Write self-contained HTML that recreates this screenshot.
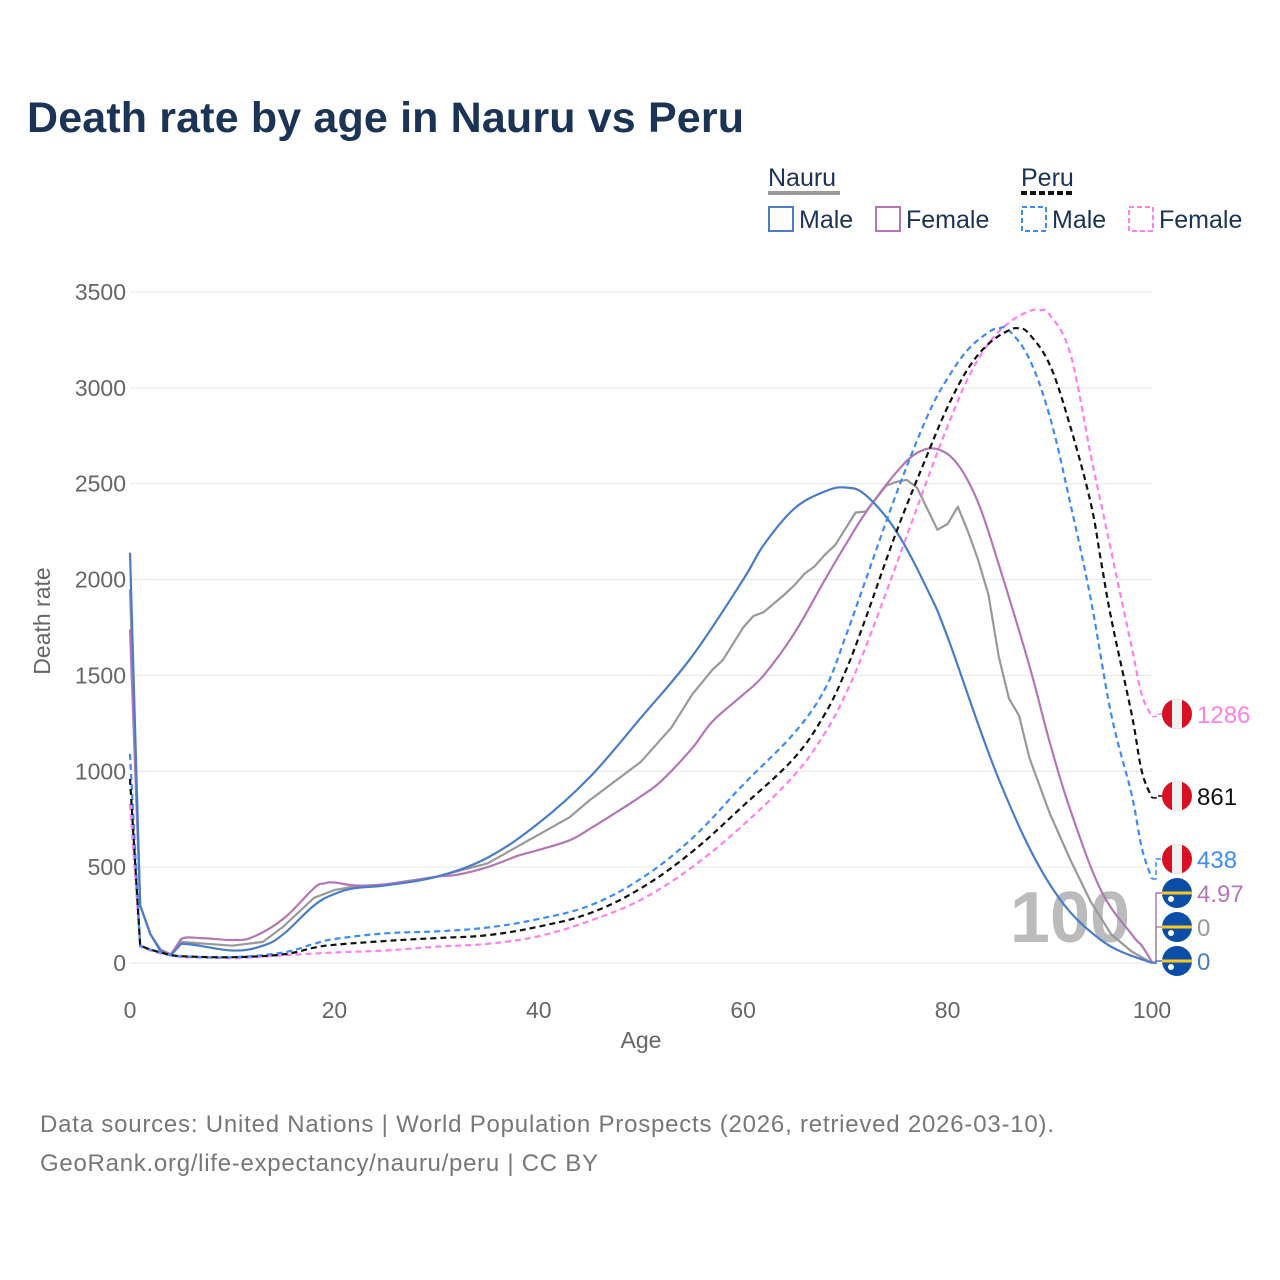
<!DOCTYPE html>
<html><head><meta charset="utf-8"><style>
body{margin:0;background:#fff;font-family:"Liberation Sans",sans-serif;}
#wrap{position:relative;width:1280px;height:1280px;overflow:hidden;}
</style></head><body>
<div id="wrap">
<svg id="chart" width="1280" height="1280" xmlns="http://www.w3.org/2000/svg">
<text x="27" y="132" font-size="43" font-weight="bold" fill="#1b3354" textLength="717">Death rate by age in Nauru vs Peru</text>
<g font-size="25" fill="#1b3354">
<text x="768" y="186">Nauru</text>
<line x1="768" y1="193" x2="840" y2="193" stroke="#999" stroke-width="4"/>
<text x="1021" y="186">Peru</text>
<line x1="1021" y1="193" x2="1075" y2="193" stroke="#111" stroke-width="4" stroke-dasharray="6,3"/>
<rect x="769" y="207" width="24" height="24" fill="none" stroke="#4a7cc9" stroke-width="2"/>
<text x="799" y="228">Male</text>
<rect x="876" y="207" width="24" height="24" fill="none" stroke="#b378b3" stroke-width="2"/>
<text x="906" y="228">Female</text>
<rect x="1022" y="207" width="24" height="24" fill="none" stroke="#3d8bf5" stroke-width="2" stroke-dasharray="5,3"/>
<text x="1052" y="228">Male</text>
<rect x="1129" y="207" width="24" height="24" fill="none" stroke="#ff80e8" stroke-width="2" stroke-dasharray="5,3"/>
<text x="1159" y="228">Female</text>
</g>
<g id="grid"></g>
<text x="1070" y="942" font-size="72" font-weight="bold" fill="#bbb" text-anchor="middle">100</text>
<g id="series"></g>
<g id="labels"></g>
<text x="641" y="1048" font-size="23" fill="#666" text-anchor="middle">Age</text>
<text x="0" y="0" font-size="23" fill="#666" text-anchor="middle" transform="translate(50,621) rotate(-90)">Death rate</text>
<text x="40" y="1132" font-size="24" fill="#777" textLength="1014">Data sources: United Nations | World Population Prospects (2026, retrieved 2026-03-10).</text>
<text x="40" y="1171" font-size="24" fill="#777" textLength="558">GeoRank.org/life-expectancy/nauru/peru | CC BY</text>
</svg>
</div>
<script>
const yTicks=[0,500,1000,1500,2000,2500,3000,3500];
const xTicks=[0,20,40,60,80,100];
const nauruMaleAges=[0,1,2,3,4,5,10,13,15,18,20,22,25,30,35,40,45,50,55,60,62,65,68,70,72,75,78,80,85,90,95,100];
const nauruMale=[2140,300,150,60,40,100,65,90,150,300,360,390,405,450,550,730,970,1280,1600,2000,2180,2370,2460,2480,2440,2250,1950,1700,960,410,120,0];
const nauruFemaleAges=[0,1,2,3,4,5,7,10,12,15,18,19,20,22,25,30,32,35,38,40,43,45,48,50,52,55,57,60,62,65,68,70,72,75,77,79,81,83,85,88,90,92,95,98,99,100];
const nauruFemale=[1740,300,150,70,45,125,130,120,135,230,390,415,420,405,410,450,460,500,560,590,640,700,800,870,950,1120,1260,1400,1500,1720,2000,2180,2350,2560,2660,2680,2600,2400,2080,1550,1150,800,380,150,90,5];
const nauruTotalAges=[0,1,2,3,4,5,10,13,15,18,20,22,25,30,35,40,43,45,47,50,51,53,55,57,58,60,61,62,64,65,66,67,68,69,71,72,74,75,76,77,78,79,80,81,82,83,84,85,86,87,88,90,92,94,96,98,100];
const nauruTotal=[1950,300,150,65,42,110,90,110,190,340,380,400,410,450,520,670,760,850,930,1050,1110,1230,1400,1530,1580,1750,1810,1830,1920,1970,2030,2070,2130,2180,2350,2355,2490,2510,2520,2480,2370,2260,2290,2380,2250,2100,1920,1600,1380,1290,1070,780,540,320,150,60,0];
const peruMaleAges=[0,1,2,3,4,5,10,15,18,20,25,30,35,40,45,50,55,60,65,68,70,72,75,78,80,82,84,85,86,88,90,92,94,96,98,99,100];
const peruMale=[1090,90,70,55,40,35,30,55,100,125,155,165,185,230,300,440,650,930,1200,1430,1700,2000,2450,2850,3050,3200,3290,3310,3300,3150,2850,2400,1900,1300,880,600,438];
const peruTotalAges=[0,1,2,3,4,5,10,15,18,20,25,30,35,40,45,50,55,60,65,68,70,72,75,78,80,82,84,86,87,88,90,92,94,95,96,98,99,100];
const peruTotal=[960,90,70,55,40,35,30,45,80,95,115,130,145,190,260,390,580,820,1070,1300,1520,1800,2250,2650,2900,3100,3230,3300,3310,3280,3120,2800,2400,2100,1800,1300,1000,861];
const peruFemaleAges=[0,1,2,3,5,10,15,20,25,30,35,40,45,50,55,60,65,68,70,72,75,78,80,82,84,86,88,89,90,92,94,95,96,98,99,100];
const peruFemale=[830,85,65,50,30,25,40,55,65,85,100,140,220,330,500,720,980,1200,1400,1650,2080,2520,2800,3050,3230,3340,3400,3405,3380,3180,2650,2400,2150,1650,1400,1286];
const endLabels=["1286","861","438","4.97","0","0"];

const NS="http://www.w3.org/2000/svg";
const X0=130,X1=1152,Y0=963,Y1=292;
const xs=a=>X0+(X1-X0)*a/100;
const ys=v=>Y0-(Y0-Y1)*v/3500;
function mk(tag,attrs,parent){const e=document.createElementNS(NS,tag);for(const k in attrs)e.setAttribute(k,attrs[k]);parent.appendChild(e);return e;}
const grid=document.getElementById('grid');
yTicks.forEach(t=>{
 const l=mk('line',{x1:X0,x2:X1,y1:ys(t),y2:ys(t),stroke:'#e6e6e6','stroke-width':1},grid);
 
 
 const tx=mk('text',{x:126,y:ys(t)+8,'font-size':23,fill:'#666','text-anchor':'end'},grid);
 tx.textContent=t;
 
 
});
xTicks.forEach(t=>{
 const tx=mk('text',{x:xs(t),y:1018,'font-size':23,fill:'#666','text-anchor':'middle'},grid);
 tx.textContent=t;
 
 
});
const seriesG=document.getElementById('series');
function pathD(ages,vals,smooth){
 const P=ages.map((a,i)=>[xs(a),ys(vals[i])]);
 let d='M'+P[0][0].toFixed(1)+','+P[0][1].toFixed(1);
 for(let i=0;i<P.length-1;i++){
  const p0=P[Math.max(0,i-1)],p1=P[i],p2=P[i+1],p3=P[Math.min(P.length-1,i+2)];
  if(!smooth||i<5){d+='L'+p2[0].toFixed(1)+','+p2[1].toFixed(1);continue;}
  const t=0.18;
  const c1=[p1[0]+(p2[0]-p0[0])*t,p1[1]+(p2[1]-p0[1])*t];
  const c2=[p2[0]-(p3[0]-p1[0])*t,p2[1]-(p3[1]-p1[1])*t];
  d+='C'+c1[0].toFixed(1)+','+c1[1].toFixed(1)+' '+c2[0].toFixed(1)+','+c2[1].toFixed(1)+' '+p2[0].toFixed(1)+','+p2[1].toFixed(1);
 }
 return d;
}
function line(ages,vals,color,dash,name,smooth){
 const p=mk('path',{d:pathD(ages,vals,smooth),fill:'none',stroke:color,'stroke-width':2.2,'stroke-linejoin':'round'},seriesG);
 if(dash)p.setAttribute('stroke-dasharray',dash);
 
 
}
line(nauruTotalAges,nauruTotal,'#999',null,'line-nauru-total',false);
line(nauruFemaleAges,nauruFemale,'#b378b3',null,'line-nauru-female',true);
line(nauruMaleAges,nauruMale,'#4a7cc9',null,'line-nauru-male',true);
line(peruFemaleAges,peruFemale,'#ff80e8','6,4','line-peru-female',true);
line(peruMaleAges,peruMale,'#3d8bf5','6,4','line-peru-male',true);
line(peruTotalAges,peruTotal,'#111','6,4','line-peru-total',true);

const lab=document.getElementById('labels');
const items=[
 {v:peruFemale[peruFemale.length-1],y:714,c:'#ff80e8',f:'peru',dash:'6,4'},
 {v:peruTotal[peruTotal.length-1],y:796,c:'#111',f:'peru',dash:'6,4'},
 {v:peruMale[peruMale.length-1],y:859,c:'#3d8bf5',f:'peru',dash:'6,4'},
 {v:nauruFemale[nauruFemale.length-1],y:893,c:'#b378b3',f:'nauru'},
 {v:nauruTotal[nauruTotal.length-1],y:927,c:'#999',f:'nauru'},
 {v:nauruMale[nauruMale.length-1],y:961,c:'#4a7cc9',f:'nauru'}
];
items.forEach((it,i)=>{
 const ey=ys(it.v);
 const c=mk('path',{d:`M${X1},${ey}L${X1+4},${ey}L${X1+4},${it.y}L${X1+10},${it.y}`,fill:'none',stroke:it.c,'stroke-width':1.5},lab);
 if(it.dash)c.setAttribute('stroke-dasharray','5,3');
 
 
 const g=mk('g',{},lab);
 
 
 const cx=1177,cy=it.y,r=15;
 const cid='clip'+i;
 const cp=mk('clipPath',{id:cid},g);mk('circle',{cx:cx,cy:cy,r:r},cp);
 const inner=mk('g',{'clip-path':`url(#${cid})`},g);
 if(it.f==='peru'){
  mk('rect',{x:cx-r,y:cy-r,width:2*r,height:2*r,fill:'#d91023'},inner);
  mk('rect',{x:cx-5,y:cy-r,width:10,height:2*r,fill:'#f0f0f0'},inner);
 }else{
  mk('rect',{x:cx-r,y:cy-r,width:2*r,height:2*r,fill:'#0b4ea8'},inner);
  mk('rect',{x:cx-r,y:cy-1.5,width:2*r,height:3,fill:'#ffc61e'},inner);
  mk('circle',{cx:cx-6,cy:cy+6,r:3,fill:'#fff'},inner);
 }
 const t=mk('text',{x:1197,y:it.y+9,'font-size':24,fill:it.c},lab);
 t.textContent=endLabels[i];
 
 
});
</script>
</body></html>
